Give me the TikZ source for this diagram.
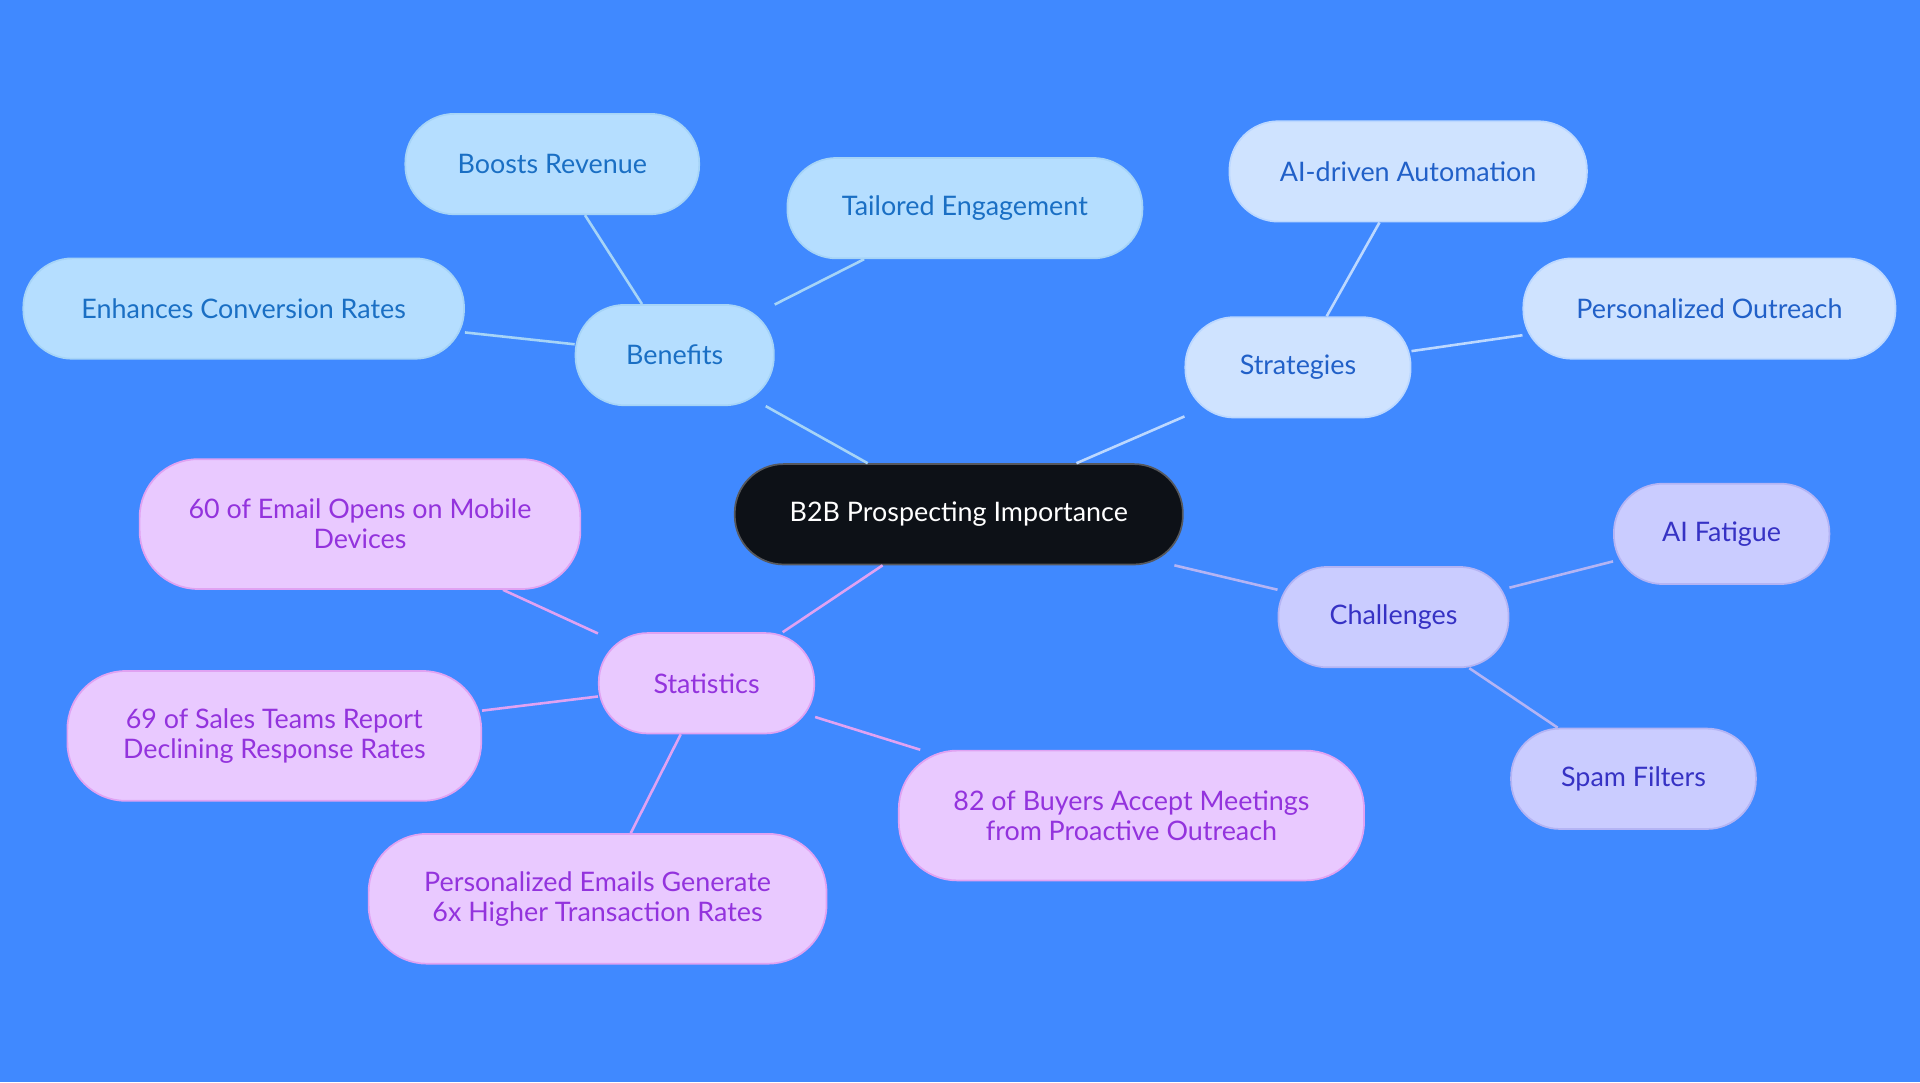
\documentclass[tikz,border=0pt]{standalone}
\usepackage{fontspec}
\setmainfont{Lato}
\definecolor{bg}{HTML}{4089FF}
\definecolor{hub}{HTML}{0D1117}
\definecolor{benfill}{HTML}{B5DEFF}
\definecolor{bentext}{HTML}{1A6FC4}
\definecolor{benline}{HTML}{A6D4F7}
\definecolor{strfill}{HTML}{CFE3FF}
\definecolor{strtext}{HTML}{2160C8}
\definecolor{strline}{HTML}{BCD8FF}
\definecolor{chafill}{HTML}{CACCFF}
\definecolor{chatext}{HTML}{3632C4}
\definecolor{chaline}{HTML}{B4B4F4}
\definecolor{stafill}{HTML}{E9C9FF}
\definecolor{statext}{HTML}{9333DD}
\definecolor{staline}{HTML}{E0A2F2}
\tikzset{% styles of the mind map
  pill/.style={rounded corners=0.8cm, minimum height=1.64cm, align=center,
    font=\fontsize{12.5}{14}\selectfont, line width=0.8pt},
  tall/.style={pill, rounded corners=0.95cm, minimum height=2.12cm},
  ben/.style={fill=benfill, draw=benline, text=bentext},
  str/.style={fill=strfill, draw=strline, text=strtext},
  cha/.style={fill=chafill, draw=chaline, text=chatext},
  sta/.style={fill=stafill, draw=staline, text=statext},
  link/.style={line width=1.2pt}
}
\begin{document}
\begin{tikzpicture}[x=0.02cm, y=-0.02cm]
\fill[bg] (0,0) rectangle (1568,884);
\useasboundingbox (0,0) rectangle (1568,884);

% centre
\node[pill, fill=hub, draw=hub!70!white, text=white, minimum width=7.32cm] (hub) at (783,420) {B2B Prospecting Importance};

% benefits
\node[pill, ben, minimum width=3.24cm] (benefits) at (551,290) {Benefits};
\node[pill, ben, minimum width=4.8cm] (revenue) at (451,134) {Boosts Revenue};
\node[pill, ben, minimum width=5.8cm] (tailored) at (788,170) {Tailored Engagement};
\node[pill, ben, minimum width=7.2cm] (conversion) at (199,252) {Enhances Conversion Rates};

% strategies
\node[pill, str, minimum width=3.68cm] (strategies) at (1060,300) {Strategies};
\node[pill, str, minimum width=5.84cm] (automation) at (1150,140) {AI-driven Automation};
\node[pill, str, minimum width=6.08cm] (outreach) at (1396,252) {Personalized Outreach};

% challenges
\node[pill, cha, minimum width=3.76cm] (challenges) at (1138,504) {Challenges};
\node[pill, cha, minimum width=3.52cm] (fatigue) at (1406,436) {AI Fatigue};
\node[pill, cha, minimum width=4cm] (spam) at (1334,636) {Spam Filters};

% statistics
\node[pill, sta, minimum width=3.52cm] (statistics) at (577,558) {Statistics};
\node[tall, sta, minimum width=7.2cm] (mobile) at (294,428) {60 of Email Opens on Mobile\\Devices};
\node[tall, sta, minimum width=6.76cm] (declining) at (224,601) {69 of Sales Teams Report\\Declining Response Rates};
\node[tall, sta, minimum width=7.48cm] (emails) at (488,734) {Personalized Emails Generate\\6x Higher Transaction Rates};
\node[tall, sta, minimum width=7.6cm] (buyers) at (924,666) {82 of Buyers Accept Meetings\\from Proactive Outreach};

% links
\draw[link, benline] (hub) -- (benefits);
\draw[link, benline] (benefits) -- (revenue);
\draw[link, benline] (benefits) -- (tailored);
\draw[link, benline] (benefits) -- (conversion);
\draw[link, strline] (hub) -- (strategies);
\draw[link, strline] (strategies) -- (automation);
\draw[link, strline] (strategies) -- (outreach);
\draw[link, chaline] (hub) -- (challenges);
\draw[link, chaline] (challenges) -- (fatigue);
\draw[link, chaline] (challenges) -- (spam);
\draw[link, staline] (hub) -- (statistics);
\draw[link, staline] (statistics) -- (mobile);
\draw[link, staline] (statistics) -- (declining);
\draw[link, staline] (statistics) -- (emails);
\draw[link, staline] (statistics) -- (buyers);
\end{tikzpicture}
\end{document}
